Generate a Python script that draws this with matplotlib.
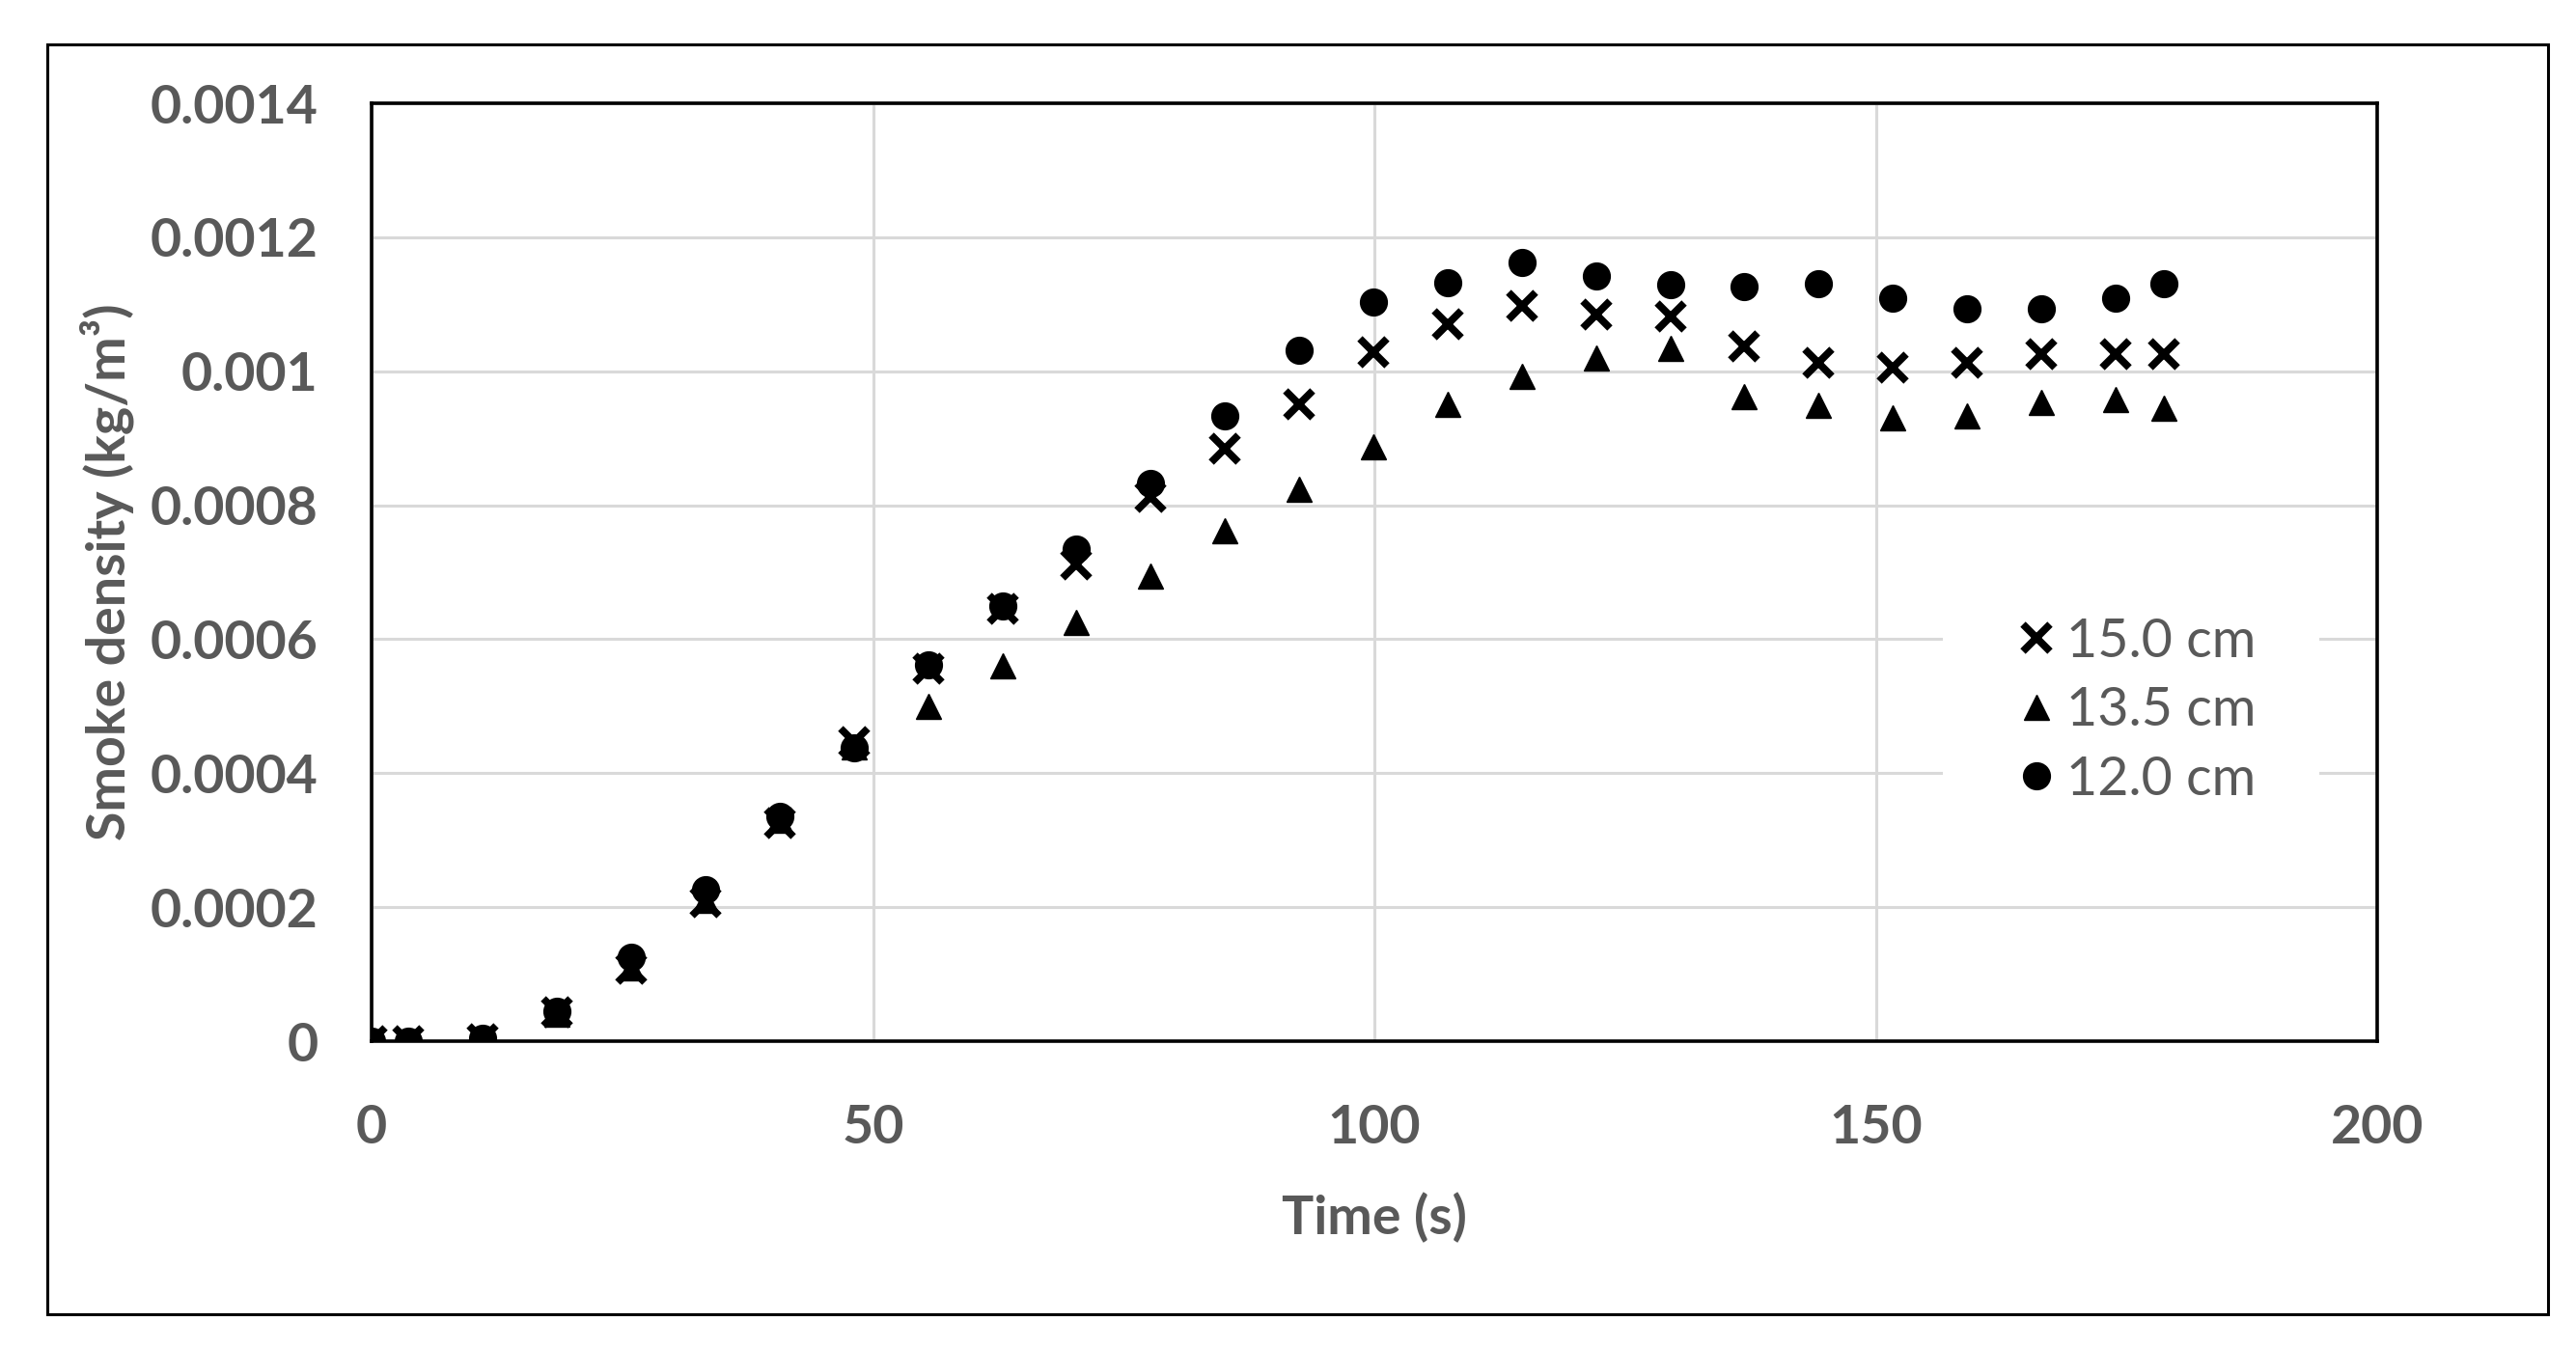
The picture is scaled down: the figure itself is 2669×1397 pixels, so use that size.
import matplotlib.pyplot as plt
from matplotlib.patches import Rectangle

plt.rcParams['font.family'] = ['Lato', 'DejaVu Sans']

# time (s)
time = [0, 3.7, 11.1, 18.5, 25.9, 33.3, 40.7, 48.1, 55.5, 62.9, 70.3, 77.7, 85.1,
        92.5, 99.9, 107.3, 114.7, 122.1, 129.5, 136.9, 144.3, 151.7, 159.1, 166.5,
        173.9, 178.7]

# smoke density (kg/m3) per height
dens_150 = [0, 0, 0.000003, 0.000043, 0.000108, 0.000207, 0.000326, 0.000447,
            0.000556, 0.000645, 0.000712, 0.000813, 0.000884, 0.000951, 0.001029,
            0.00107, 0.001098, 0.001085, 0.001082, 0.001037, 0.001013, 0.001006,
            0.001013, 0.001025, 0.001025, 0.001025]
dens_135 = [0, 0, 0.000003, 0.00004, 0.00011, 0.00021, 0.00033, 0.00044,
            0.0005, 0.000561, 0.000625, 0.000694, 0.000762, 0.000824, 0.000887,
            0.000951, 0.000993, 0.00102, 0.001034, 0.000962, 0.000949, 0.00093,
            0.000933, 0.000953, 0.000958, 0.000945]
dens_120 = [0, 0, 0.000004, 0.000045, 0.000125, 0.000226, 0.000336, 0.000438,
            0.000562, 0.00065, 0.000735, 0.000833, 0.000933, 0.001031, 0.001103,
            0.001132, 0.001162, 0.001142, 0.001129, 0.001126, 0.00113, 0.001109,
            0.001093, 0.001093, 0.001109, 0.00113]

labels = ['15.0 cm', '13.5 cm', '12.0 cm']

x_ticks = [0, 50, 100, 150, 200]
y_ticks = [0, 0.0002, 0.0004, 0.0006, 0.0008, 0.001, 0.0012, 0.0014]
y_tick_labels = ['0', '0.0002', '0.0004', '0.0006', '0.0008', '0.001', '0.0012', '0.0014']

grey = '#595959'
fs = 40
W, H = 2669, 1397

fig = plt.figure(figsize=(W / 100, H / 100), dpi=100)
ax = fig.add_axes([385 / W, 1 - 1079 / H, (2463 - 385) / W, (1079 - 107) / H])

ax.plot(time, dens_150, 'x', color='black', ms=20, mew=5.5, label=labels[0], zorder=3)
ax.plot(time, dens_135, '^', color='black', ms=19, mew=1, label=labels[1], zorder=4)
ax.plot(time, dens_120, 'o', color='black', ms=20, mew=1, label=labels[2], zorder=5)

ax.set_xlim(0, 200)
ax.set_ylim(0, 0.0014)
ax.set_xticks(x_ticks)
ax.set_yticks(y_ticks)
ax.set_yticklabels(y_tick_labels)

ax.grid(True, color='#d9d9d9', lw=2.2)
ax.set_axisbelow(True)
for s in ax.spines.values():
    s.set_linewidth(2.6)
    s.set_color('black')
    s.set_zorder(6)

ax.tick_params(axis='both', length=0, labelsize=fs, labelcolor=grey)
ax.tick_params(axis='y', pad=40)
ax.tick_params(axis='x', pad=47)
for lab in ax.get_xticklabels() + ax.get_yticklabels():
    lab.set_fontweight('bold')

ax.set_xlabel('Time (s)', fontsize=fs, color=grey, fontweight='bold', labelpad=30)
ax.set_ylabel('Smoke density (kg/m³)', fontsize=fs, color=grey, fontweight='bold',
              labelpad=12)

# white patch behind the legend, cutting the gridlines
ax.add_patch(Rectangle(((2013 - 385) / 2078, (1079 - 845) / 972),
                       (2403 - 2013) / 2078, (845 - 622) / 972,
                       transform=ax.transAxes, facecolor='white',
                       edgecolor='none', zorder=1))

leg = ax.legend(loc='center left', bbox_to_anchor=((2099 - 385) / 2078, 0.352),
                fontsize=fs, frameon=False, handlelength=0.4, handletextpad=0.36,
                labelspacing=0.37, borderpad=0, borderaxespad=0)
for t in leg.get_texts():
    t.set_color(grey)

# outer chart border
fig.patches.append(Rectangle((49 / W, 1 - 1362 / H), (2640 - 49) / W,
                             (1362 - 46) / H, transform=fig.transFigure,
                             fill=False, edgecolor='black', lw=2.2))

fig.savefig('out.png', dpi=100, facecolor='white')
